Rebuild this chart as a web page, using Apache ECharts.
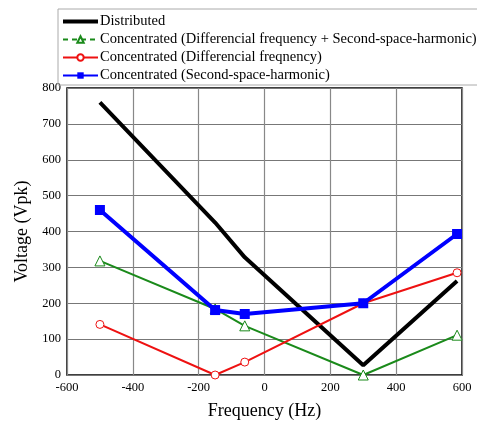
<!DOCTYPE html>
<html>
<head>
<meta charset="utf-8">
<script src="https://cdn.jsdelivr.net/npm/echarts@6/dist/echarts.min.js"></script>
<style>
  html, body { margin: 0; padding: 0; background: #fff; }
  #chart { width: 477px; height: 425px; }
</style>
</head>
<body>
<div id="chart"></div>
<script>
// frequency points (Hz)
const freqs = [-500, -150, -60, 300, 585];

// voltage (Vpk) per case
const distributed = [760, 425, 328, 27, 262];
const concBoth = [318, 184, 137, 0, 111];
const concDiff = [141, 0, 36, 200, 285];
const concHarm = [460, 181, 170, 200, 393];

const names = [
  "Distributed",
  "Concentrated (Differencial frequency + Second-space-harmonic)",
  "Concentrated (Differencial freqnency)",
  "Concentrated (Second-space-harmonic)",
];

const font = "Liberation Serif, Times New Roman, serif";
const pairs = (ys) => freqs.map((x, i) => [x, ys[i]]);

const chart = echarts.init(document.getElementById("chart"));

chart.setOption({
  backgroundColor: "#fff",
  animation: false,
  legend: {
    orient: "vertical",
    left: 58,
    top: 9,
    padding: [4, 60, 1, 4],
    itemGap: 1,
    itemWidth: 35,
    itemHeight: 8,
    borderColor: "#aaa",
    borderWidth: 1,
    textStyle: { fontFamily: font, fontSize: 14.5, lineHeight: 17, color: "#000", padding: [0, 0, 0, -3] },
    data: [
      { name: names[0], icon: "path://M0,0 L36,0 L36,4 L0,4 Z" },
      { name: names[1], lineStyle: { type: [5, 4] } },
      { name: names[2] },
      { name: names[3] },
    ],
  },
  grid: {
    left: 67,
    right: 15,
    top: 88,
    bottom: 47,
    show: true,
    borderColor: "#000",
    borderWidth: 1.5,
  },
  xAxis: {
    type: "value",
    min: -600,
    max: 600,
    interval: 200,
    name: "Frequency (Hz)",
    nameLocation: "middle",
    nameGap: 27,
    nameTextStyle: { fontFamily: font, fontSize: 18, color: "#000" },
    axisLine: { show: false },
    axisTick: { show: false },
    axisLabel: { fontFamily: font, fontSize: 12.5, color: "#000", margin: 6 },
    splitLine: { lineStyle: { color: "#888", width: 1.2 } },
  },
  yAxis: {
    type: "value",
    min: 0,
    max: 800,
    interval: 100,
    name: "Voltage (Vpk)",
    nameLocation: "middle",
    nameGap: 35,
    nameTextStyle: { fontFamily: font, fontSize: 18, color: "#000" },
    axisLine: { show: false },
    axisTick: { show: false },
    axisLabel: { fontFamily: font, fontSize: 12.5, color: "#000", margin: 6 },
    splitLine: { lineStyle: { color: "#777", width: 1.2 } },
  },
  series: [
    {
      name: names[0],
      type: "line",
      data: pairs(distributed),
      symbol: "none",
      lineStyle: { color: "#000", width: 4 },
      itemStyle: { color: "#000" },
    },
    {
      name: names[1],
      type: "line",
      data: pairs(concBoth),
      symbol: "triangle",
      symbolSize: 10,
      lineStyle: { color: "#1a8a1a", width: 2 },
      itemStyle: { color: "#fff", borderColor: "#1a8a1a", borderWidth: 1 },
    },
    {
      name: names[2],
      type: "line",
      data: pairs(concDiff),
      symbol: "circle",
      symbolSize: 8,
      lineStyle: { color: "#ee1111", width: 2 },
      itemStyle: { color: "#fff", borderColor: "#ee1111", borderWidth: 1 },
    },
    {
      name: names[3],
      type: "line",
      data: pairs(concHarm),
      symbol: "rect",
      symbolSize: 10,
      lineStyle: { color: "#0000ff", width: 4 },
      itemStyle: { color: "#0000ff" },
    },
  ],
});
</script>
</body>
</html>
